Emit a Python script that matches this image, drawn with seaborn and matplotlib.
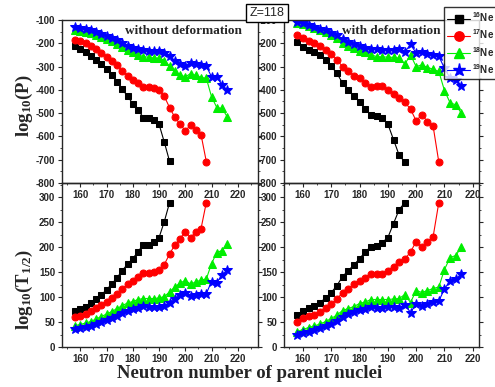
import numpy as np
import matplotlib
matplotlib.use('Agg')
import matplotlib.pyplot as plt
from matplotlib.ticker import MultipleLocator
from matplotlib.lines import Line2D
import seaborn as sns

# neutron numbers of the parent nuclei (even N)
neutrons = [158, 160, 162, 164, 166, 168, 170, 172, 174, 176, 178, 180, 182, 184, 186,
            188, 190, 192, 194, 196, 198, 200, 202, 204, 206, 208, 210, 212, 214, 216]

# log10(P) without deformation
p16_wo = [-213, -223, -236, -253, -270, -290, -311, -336, -366, -397, -428, -459, -486, -519, -521,
          -530, -548, -625, -707]
p17_wo = [-184, -191, -200, -213, -224, -240, -257, -274, -294, -319, -339, -356, -371, -389, -387,
          -392, -400, -428, -476, -518, -547, -576, -551, -571, -593, -708]
p18_wo = [-141, -146, -150, -156, -163, -171, -180, -190, -201, -214, -227, -239, -249, -257, -260,
          -263, -264, -274, -298, -321, -336, -344, -330, -338, -347, -350, -430, -476, -480, -516]
p19_wo = [-130, -134, -139, -144, -151, -159, -167, -176, -187, -199, -210, -219, -226, -230, -232,
          -234, -235, -240, -254, -276, -290, -297, -283, -287, -293, -298, -344, -344, -380, -401]

# log10(P) with deformation
p16_w = [-195, -214, -227, -238, -252, -272, -299, -329, -371, -400, -427, -452, -482, -509, -513,
         -523, -547, -614, -681, -710]
p17_w = [-164, -179, -189, -197, -210, -227, -246, -270, -301, -320, -339, -351, -369, -387, -383,
         -384, -399, -416, -436, -453, -483, -533, -507, -536, -557, -710]
p18_w = [-112, -119, -126, -134, -142, -151, -164, -178, -200, -212, -222, -231, -239, -249, -257,
         -259, -259, -261, -264, -289, -250, -300, -293, -304, -311, -321, -403, -456, -464, -501]
p19_w = [-107, -115, -122, -129, -137, -145, -155, -166, -180, -194, -203, -211, -219, -226, -226,
         -227, -227, -227, -225, -237, -205, -242, -239, -246, -251, -256, -307, -350, -356, -383]

# log10(T1/2) without deformation
t16_wo = [72, 76, 81, 88, 96, 104, 115, 126, 139, 153, 166, 177, 191, 205, 205, 210, 219, 251, 289]
t17_wo = [60, 63, 67, 72, 78, 84, 91, 99, 107, 116, 126, 133, 141, 149, 149, 150, 155, 165, 186,
          204, 217, 231, 219, 230, 237, 289]
t18_wo = [43, 45, 48, 51, 56, 61, 66, 71, 77, 83, 88, 91, 95, 97, 97, 97, 98, 101, 110, 120, 128,
          133, 126, 130, 134, 136, 167, 189, 193, 207]
t19_wo = [36, 38, 40, 43, 46, 50, 54, 59, 63, 69, 73, 77, 79, 82, 81, 81, 81, 83, 89, 97, 104, 108,
          103, 105, 106, 107, 131, 129, 144, 154]

# log10(T1/2) with deformation
t16_w = [64, 73, 79, 82, 89, 98, 109, 123, 141, 153, 164, 177, 190, 201, 203, 209, 219, 247, 275, 289]
t17_w = [50, 58, 62, 65, 70, 78, 86, 96, 109, 117, 126, 133, 139, 147, 146, 146, 153, 161, 171, 176,
         190, 211, 200, 211, 221, 289]
t18_w = [31, 35, 39, 42, 46, 51, 57, 64, 73, 77, 81, 87, 90, 95, 95, 95, 95, 96, 97, 105, 89, 113,
         109, 113, 117, 120, 155, 179, 183, 200]
t19_w = [25, 28, 31, 35, 38, 42, 47, 53, 61, 67, 71, 74, 77, 81, 79, 79, 80, 80, 78, 85, 69, 86, 83,
         87, 90, 92, 116, 133, 136, 146]

labels = ['$^{16}$Ne', '$^{17}$Ne', '$^{18}$Ne', '$^{19}$Ne']
colors = ['#000000', '#ff0000', '#00ee00', '#0000ff']
markers = ['s', 'o', '^', '*']
msizes = [4, 5, 5.5, 7]

sns.set_style('ticks')
plt.rcParams['font.family'] = ['Liberation Sans', 'DejaVu Sans']
plt.rcParams['font.weight'] = 'bold'
plt.rcParams['mathtext.default'] = 'regular'
plt.rcParams['axes.unicode_minus'] = False

W, H = 495, 387
fig = plt.figure(figsize=(W / 100, H / 100), dpi=100)


def add_ax(x0, y0, x1, y1):
    return fig.add_axes([x0 / W, 1 - y1 / H, (x1 - x0) / W, (y1 - y0) / H])


ax_tl = add_ax(62, 20, 258, 183)
ax_tr = add_ax(284, 20, 479, 183)
ax_bl = add_ax(62, 183, 258, 347)
ax_br = add_ax(284, 183, 479, 347)

panels = [
    (ax_tl, [p16_wo, p17_wo, p18_wo, p19_wo], (153, 227.7), (-800, -100), 100, 50),
    (ax_tr, [p16_w, p17_w, p18_w, p19_w], (153.3, 222.2), (-800, -100), 100, 50),
    (ax_bl, [t16_wo, t17_wo, t18_wo, t19_wo], (153, 227.7), (0, 328), 50, 25),
    (ax_br, [t16_w, t17_w, t18_w, t19_w], (153.3, 222.2), (0, 328), 50, 25),
]

for ax, series, xl, yl, major, minor in panels:
    ax.patch.set_alpha(0)
    for vals, lab, c, m, ms in zip(series, labels, colors, markers, msizes):
        sns.lineplot(x=neutrons[:len(vals)], y=vals, ax=ax, color=c, marker=m, markersize=ms,
                     markeredgecolor=c, linewidth=0.8, legend=False)
    ax.set_xlim(*xl)
    ax.set_ylim(*yl)
    ax.xaxis.set_major_locator(MultipleLocator(10))
    ax.xaxis.set_minor_locator(MultipleLocator(5))
    ax.yaxis.set_major_locator(MultipleLocator(major))
    ax.yaxis.set_minor_locator(MultipleLocator(minor))
    ax.tick_params(which='major', length=3, width=0.8, labelsize=7, pad=2)
    ax.tick_params(which='minor', length=1.5, width=0.6)
    ax.tick_params(axis='y', which='both', right=True, direction='out')
    for s in ax.spines.values():
        s.set_linewidth(1.0)
        s.set_visible(True)
    ax.set_xlabel('')
    ax.set_ylabel('')

ax_tl.set_zorder(3)
ax_tr.set_zorder(3)

ax_tl.text(0.62, 0.935, 'without deformation', transform=ax_tl.transAxes, ha='center', va='center',
           family='Liberation Serif', fontweight='bold', fontsize=9.5)
ax_tr.text(0.55, 0.935, 'with deformation', transform=ax_tr.transAxes, ha='center', va='center',
           family='Liberation Serif', fontweight='bold', fontsize=9.5)

fig.text(24 / W, 1 - 106 / H, 'log$_{10}$(P)', rotation=90, ha='center', va='center',
         family='Liberation Serif', fontweight='bold', fontsize=13.5)
fig.text(24 / W, 1 - 289 / H, 'log$_{10}$(T$_{1/2}$)', rotation=90, ha='center', va='center',
         family='Liberation Serif', fontweight='bold', fontsize=13.5)
fig.text(250 / W, 1 - 373 / H, 'Neutron number of parent nuclei', ha='center', va='center',
         family='Liberation Serif', fontweight='bold', fontsize=13.5)

fig.text(267 / W, 1 - 13 / H, 'Z=118', ha='center', va='center', fontsize=9, fontweight='normal',
         zorder=20,
         bbox=dict(boxstyle='square,pad=0.25', facecolor='white', edgecolor='black', linewidth=1))

handles = [Line2D([], [], color=c, marker=m, markersize=ms * 1.35, markeredgecolor=c, linewidth=0.8)
           for c, m, ms in zip(colors, markers, msizes)]
leg = fig.legend(handles, labels, loc='upper left', bbox_to_anchor=(444 / W, 1 - 7 / H),
                 frameon=True, fancybox=False, edgecolor='black', borderaxespad=0,
                 handlelength=2.3, labelspacing=0.35, borderpad=0.35, handletextpad=0.2,
                 prop={'weight': 'bold', 'size': 7})
leg.get_frame().set_linewidth(1.0)
leg.set_zorder(10)

fig.savefig('out.png', dpi=100)
